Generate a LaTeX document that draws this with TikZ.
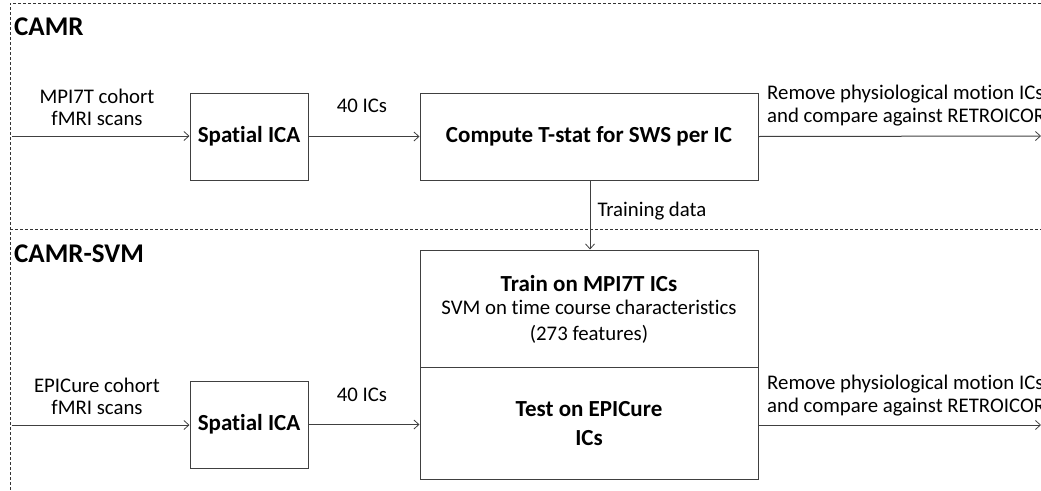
\documentclass[tikz,border=0pt]{standalone}
\usepackage{fontspec}
\setmainfont{Carlito}[Ligatures=NoCommon]
\usetikzlibrary{arrows.meta}
\begin{document}
\begin{tikzpicture}[x=1pt,y=-1pt,
  box/.style={draw=black!75,line width=1pt,inner sep=0pt},
  conn/.style={draw=black!75,line width=1pt,-{Straight Barb[length=5pt,width=9pt,line width=0.8pt]}},
  lbl/.style={font=\fontsize{20.8}{22}\selectfont,align=center,inner sep=0pt},
  btxt/.style={font=\fontsize{23}{29}\selectfont\bfseries,align=center,inner sep=0pt},
  ttl/.style={font=\fontsize{27}{30}\selectfont\bfseries,anchor=west,inner sep=0pt},
  frame/.style={draw=black!80,line width=0.8pt,dash pattern=on 3pt off 2pt}]
\useasboundingbox (0,0) rectangle (1041,490);
% frames
\draw[frame] (1041,3) -- (10,3) -- (10,490);
\draw[frame] (10,229) -- (1041,229);
\node[ttl] (t1) at (14,27) {CAMR};
\node[ttl] (t2) at (14,254) {CAMR-SVM};
% top row
\coordinate (in1) at (12,136);
\node[box,minimum width=118pt,minimum height=87pt] (ica1) at (249,136.5) {};
\node[btxt] at (ica1.center) {Spatial ICA};
\node[box,minimum width=338pt,minimum height=87pt] (ts) at (589,136.5) {};
\node[btxt] at (ts.center) {Compute T-stat for SWS per IC};
\coordinate (out1) at (1041,136);
\draw[conn] (in1) -- (in1 -| ica1.west);
\draw[conn] (ica1.east) -- (ts.west);
\draw[conn] (ts.east) -- (out1);
\node[lbl] (l1) at (97,107) {MPI7T cohort\\fMRI scans};
\node[lbl] (l2) at (362,106) {40 ICs};
\node[lbl,anchor=west,align=left,font=\fontsize{20.8}{23}\selectfont] (l3) at (767,106) {Remove physiological motion ICs\\and compare against RETROICOR};
% bottom row
\node[box,minimum width=338pt,minimum height=117pt] (train) at (589,308.5) {};
\node[box,minimum width=338pt,minimum height=112pt] (test) at (589,423) {};
\node[btxt] (trt) at (589,284) {Train on MPI7T ICs};
\node[lbl,font=\fontsize{20.8}{26}\selectfont] (trs) at (589,322) {SVM on time course characteristics\\(273 features)};
\node[btxt] at (589,423.5) {Test on EPICure\\ICs};
\draw[conn] (ts.south -| 590,0) -- node[lbl,anchor=west,pos=0.45,xshift=7pt] {Training data} (train.north -| 590,0);
\node[box,minimum width=118pt,minimum height=87pt] (ica2) at (249,424.5) {};
\node[btxt] at (ica2.center) {Spatial ICA};
\coordinate (in2) at (12,425);
\coordinate (out2) at (1041,425);
\draw[conn] (in2) -- (in2 -| ica2.west);
\draw[conn] (ica2.east) -- (ica2.east -| test.west);
\draw[conn] (test.east |- out2) -- (out2);
\node[lbl] at (97,396) {EPICure cohort\\fMRI scans};
\node[lbl] at (362,395) {40 ICs};
\node[lbl,anchor=west,align=left,font=\fontsize{20.8}{23}\selectfont] at (767,396) {Remove physiological motion ICs\\and compare against RETROICOR};
\end{tikzpicture}
\end{document}
